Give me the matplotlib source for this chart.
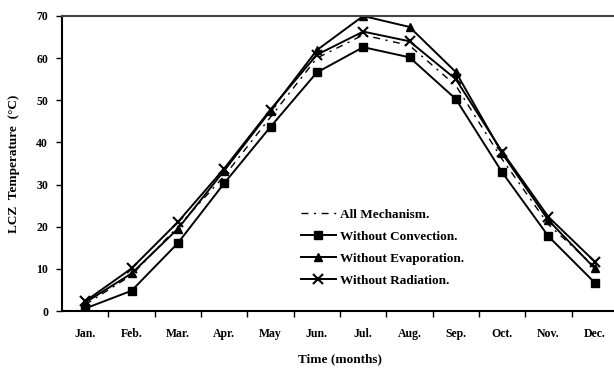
import numpy as np
from matplotlib import pyplot as plt

months  = ['Jan.', 'Feb.', 'Mar.', 'Apr.', 'May', 'Jun.', 'Jul.', 'Aug.', 'Sep.', 'Oct.', 'Nov.', 'Dec.']
allmech = [1.5, 8.5, 20.0, 32.0, 46.0, 60.0, 65.5, 63.0, 53.5, 36.0, 20.5, 10.5]
noconv  = [0.6, 4.8, 16.1, 30.3, 43.7, 56.6, 62.6, 60.2, 50.3, 32.9, 17.7, 6.7]
noevap  = [2.0, 8.9, 19.5, 33.3, 47.5, 61.9, 70.0, 67.4, 56.7, 37.4, 21.5, 10.1]
norad   = [2.3, 10.1, 21.1, 33.8, 47.8, 60.8, 66.3, 64.0, 55.0, 37.8, 22.3, 11.7]

plt.rcParams['font.family'] = ['Liberation Serif', 'DejaVu Serif']
plt.rcParams['font.weight'] = 'bold'

fig = plt.figure(figsize=(6.14, 3.69), dpi=100)
ax  = fig.add_axes([62/614, 58/369, 556/614, 295/369])
x   = np.arange(len(months))

ax.plot(x, allmech, color='k', lw=1.0, ls=(0, (5, 4, 1.5, 4)), label='All Mechanism.')
ax.plot(x, noconv, color='k', lw=1.4, marker='s', ms=6, label='Without Convection.')
ax.plot(x, noevap, color='k', lw=1.4, marker='^', ms=6, label='Without Evaporation.')
ax.plot(x, norad, color='k', lw=1.4, marker='x', ms=6.5, mew=1.5, label='Without Radiation.')

ax.set_xlim(-0.5, 11.5)
ax.set_ylim(0, 70)
ax.set_yticks(range(0, 71, 10))
ax.set_xticks(x)
ax.set_xticklabels(months, fontsize=8.5, fontweight='bold')
ax.set_xticks(np.arange(0.5, 11.5, 1), minor=True)
ax.tick_params(axis='x', which='major', length=0, pad=12)
ax.tick_params(axis='x', which='minor', length=4, width=1, direction='out')
ax.tick_params(axis='y', length=4, width=1, direction='out', labelsize=8.5, pad=6)
for lab in ax.get_yticklabels():
	lab.set_fontweight('bold')

ax.spines['right'].set_visible(False)
ax.spines['top'].set_color('#444444')
for s in ['left', 'bottom', 'top']:
	ax.spines[s].set_linewidth(1.5)

ax.set_xlabel('Time (months)', fontsize=9.5, fontweight='bold', labelpad=10)
ax.set_ylabel('LCZ  Temperature  (\u00b0C)', fontsize=9.5, fontweight='bold', labelpad=12)

ax.legend(loc='upper left', bbox_to_anchor=(234/556, 1 - 187/295), frameon=False,
	handlelength=2.6, handletextpad=0.3, labelspacing=0.75,
	borderaxespad=0, prop={'weight': 'bold', 'size': 9.5})

fig.savefig('out.png', dpi=100)
